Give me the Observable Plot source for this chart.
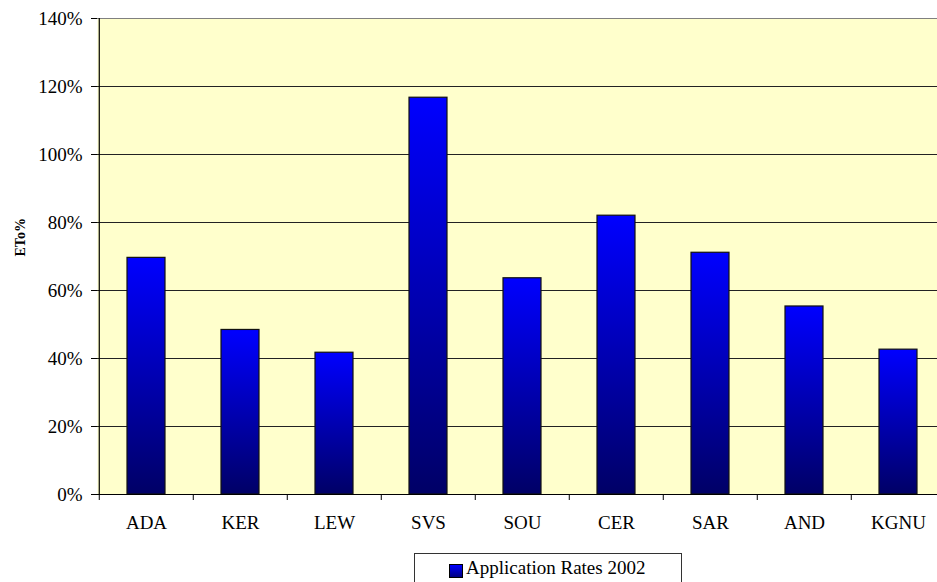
<!DOCTYPE html>
<html>
<head>
<meta charset="utf-8">
<script src="https://cdn.jsdelivr.net/npm/d3@7"></script>
<script src="https://cdn.jsdelivr.net/npm/@observablehq/plot@0.6"></script>
<style>
  html, body { margin: 0; padding: 0; background: #ffffff; overflow: hidden; width: 937px; height: 582px; }
  #chart { width: 947px; }
  #legend {
    position: absolute; left: 414px; top: 553px; width: 268px; height: 40px;
    border: 1px solid #333; box-sizing: border-box; background: #fff;
    font-family: "Liberation Serif", "Times New Roman", serif; font-size: 19px; color: #000;
  }
  #legend .sw {
    position: absolute; left: 34px; top: 10px; width: 12px; height: 12px;
    border: 1px solid #000; background: linear-gradient(#0000ff, #000080);
  }
  #legend .lab { position: absolute; left: 51px; top: 3px; line-height: 22px; white-space: nowrap; }
  .ytitle { font-size: 14px; font-weight: bold; }
</style>
</head>
<body>
<div id="chart"></div>
<div id="legend"><span class="sw"></span><span class="lab">Application Rates 2002</span></div>
<script>
const categories = ["ADA", "KER", "LEW", "SVS", "SOU", "CER", "SAR", "AND", "KGNU"];
const values = [69.6, 48.4, 41.7, 116.7, 63.6, 82.0, 71.1, 55.3, 42.6];
const yTicks = [0, 20, 40, 60, 80, 100, 120, 140];
const gridTicks = [20, 40, 60, 80, 100, 120];
const seriesName = "Application Rates 2002";
const yTitle = "ETo%";

const data = categories.map((c, i) => ({site: c, value: values[i]}));

const W = 947, H = 548, ML = 97, MR = 0, MT = 18, MB = 54;
const step = (W - ML - MR) / categories.length;

const plot = Plot.plot({
  width: W,
  height: H,
  marginLeft: ML,
  marginRight: MR,
  marginTop: MT,
  marginBottom: MB,
  style: {fontFamily: "Liberation Serif", fontSize: "19px", background: "white", color: "black", overflow: "visible"},
  x: {domain: categories, paddingInner: 0.6, paddingOuter: 0.3, tickSize: 0, tickPadding: 21, label: null},
  y: {domain: [0, 140], ticks: yTicks, tickFormat: d => d + "%", tickSize: 6, tickPadding: 9, label: null},
  marks: [
    Plot.frame({fill: "#ffffcc", stroke: "none"}),
    Plot.ruleY(gridTicks, {stroke: "#222", strokeWidth: 1}),
    Plot.ruleY([140], {stroke: "#808080", strokeWidth: 1.2}),
    Plot.barY(data, {x: "site", y: "value", fill: "url(#barGrad)", stroke: "#111", strokeWidth: 1.2}),
    Plot.ruleY([0], {stroke: "black", strokeWidth: 1.2}),
    Plot.ruleX([categories[0]], {dx: -step / 2, y1: 0, y2: 140, stroke: "black", strokeWidth: 1.2}),
    Plot.ruleX(categories, {x: d => d, dx: -step / 2, y1: 0, y2: 0, insetBottom: -6, stroke: "black", strokeWidth: 1}),
    Plot.text([yTitle], {text: d => d, frameAnchor: "left", dx: -77, dy: 0, rotate: -90, fontWeight: "bold", fontSize: "14px", fill: "black", className: "ytitle"})
  ]
});

const defs = d3.select(plot).insert("defs", ":first-child");
const grad = defs.append("linearGradient").attr("id", "barGrad").attr("x1", 0).attr("y1", 0).attr("x2", 0).attr("y2", 1);
grad.append("stop").attr("offset", "0%").attr("stop-color", "#0000ff");
grad.append("stop").attr("offset", "100%").attr("stop-color", "#000066");

document.getElementById("chart").appendChild(plot);
</script>
</body>
</html>
